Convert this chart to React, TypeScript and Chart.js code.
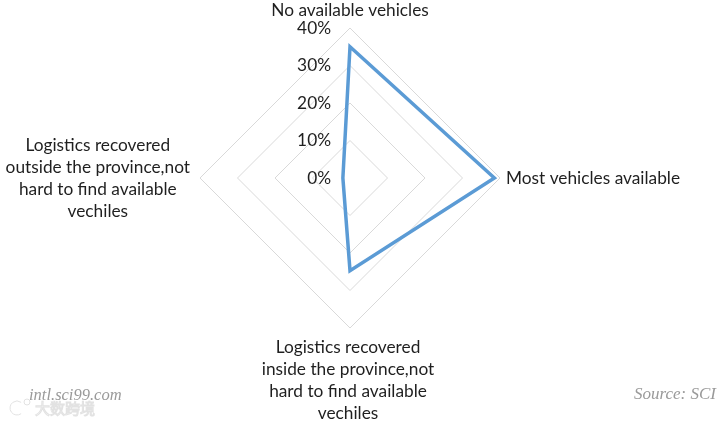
import React, { useEffect, useRef } from "react";
import { Chart, registerables } from "chart.js";

Chart.register(...registerables);

const categories: string[][] = [
  ["No available vehicles"],
  ["Most vehicles available"],
  ["Logistics recovered", "inside the province,not", "hard to find available", "vechiles"],
  ["Logistics recovered", "outside the province,not", "hard to find available", "vechiles"],
];
const seriesValues: number[] = [35, 38.5, 24.7, 1.9];
const tickValues: number[] = [0, 10, 20, 30, 40];
const tickLabels: string[] = ["0%", "10%", "20%", "30%", "40%"];

const FONT = "17.3px Lato, 'Open Sans', sans-serif";
const TEXT = "#1f1f1f";

const labelPlugin = {
  id: "excelLabels",
  afterDraw(chart: any) {
    const scale = chart.scales.r;
    const ctx = chart.ctx as CanvasRenderingContext2D;
    const cx = scale.xCenter;
    const cy = scale.yCenter;
    const R = scale.drawingArea;
    ctx.save();
    ctx.font = FONT;
    ctx.fillStyle = TEXT;
    // tick labels
    ctx.textAlign = "right";
    ctx.textBaseline = "middle";
    tickValues.forEach((v, i) => {
      const d = scale.getDistanceFromCenterForValue(v);
      ctx.fillText(tickLabels[i], cx - 19, cy - d);
    });
    // point labels
    const lh = 22;
    categories.forEach((lines, i) => {
      const p = scale.getPointPosition(i, R);
      if (i === 0) {
        ctx.textAlign = "center";
        ctx.textBaseline = "middle";
        ctx.fillText(lines[0], p.x, p.y - 18);
      } else if (i === 1) {
        ctx.textAlign = "left";
        ctx.textBaseline = "middle";
        ctx.fillText(lines[0], p.x + 6, p.y);
      } else if (i === 2) {
        ctx.textAlign = "center";
        ctx.textBaseline = "middle";
        lines.forEach((t, k) => ctx.fillText(t, p.x - 2, p.y + 19 + k * lh));
      } else {
        const maxW = Math.max(...lines.map((t) => ctx.measureText(t).width));
        const x = p.x - 10 - maxW / 2;
        ctx.textAlign = "center";
        ctx.textBaseline = "middle";
        const top = p.y - ((lines.length - 1) * lh) / 2;
        lines.forEach((t, k) => ctx.fillText(t, x, top + k * lh));
      }
    });
    // watermarks
    ctx.fillStyle = "#9a9a9a";
    ctx.textBaseline = "alphabetic";
    ctx.textAlign = "left";
    ctx.font = "italic 16.5px 'Liberation Serif', 'DejaVu Serif', serif";
    ctx.fillText("intl.sci99.com", 29, 400);
    ctx.font = "italic 17px 'Liberation Serif', 'DejaVu Serif', serif";
    ctx.textAlign = "right";
    ctx.fillText("Source: SCI", 716, 399);
    ctx.textAlign = "left";
    ctx.font = "15px 'Noto Sans CJK SC', sans-serif";
    ctx.strokeStyle = "#e2e2e2";
    ctx.lineWidth = 1;
    ctx.strokeText("大数跨境", 35, 414);
    ctx.beginPath();
    ctx.arc(17, 408, 7, Math.PI * 0.3, Math.PI * 1.7);
    ctx.stroke();
    ctx.beginPath();
    ctx.arc(27, 402, 3, 0, Math.PI * 2);
    ctx.stroke();
    ctx.restore();
  },
};

export default function App() {
  const ref = useRef<HTMLCanvasElement | null>(null);
  useEffect(() => {
    if (!ref.current) return;
    const chart = new Chart(ref.current, {
      type: "radar",
      data: {
        labels: categories.map((c) => c.join(" ")),
        datasets: [
          {
            data: seriesValues,
            borderColor: "#5b9bd5",
            borderWidth: 3.5,
            pointRadius: 0,
            pointHoverRadius: 0,
            fill: false,
            tension: 0,
            borderJoinStyle: "miter",
          },
        ],
      },
      options: {
        responsive: false,
        animation: false,
        devicePixelRatio: 1,
        layout: { padding: { left: 200, top: 28, right: 218, bottom: 94 } },
        plugins: { legend: { display: false }, tooltip: { enabled: false } },
        scales: {
          r: {
            min: 0,
            max: 40,
            ticks: { display: false, stepSize: 10 },
            grid: { color: "#d9d9d9", lineWidth: 1 },
            angleLines: { display: false },
            pointLabels: { display: false },
          },
        },
      },
      plugins: [labelPlugin],
    } as any);
    return () => chart.destroy();
  }, []);
  return (
    <div style={{ position: "absolute", left: 0, top: 0, width: 718, height: 422, background: "#fff" }}>
      <canvas ref={ref} width={718} height={422} style={{ width: 718, height: 422, display: "block" }} />
    </div>
  );
}
